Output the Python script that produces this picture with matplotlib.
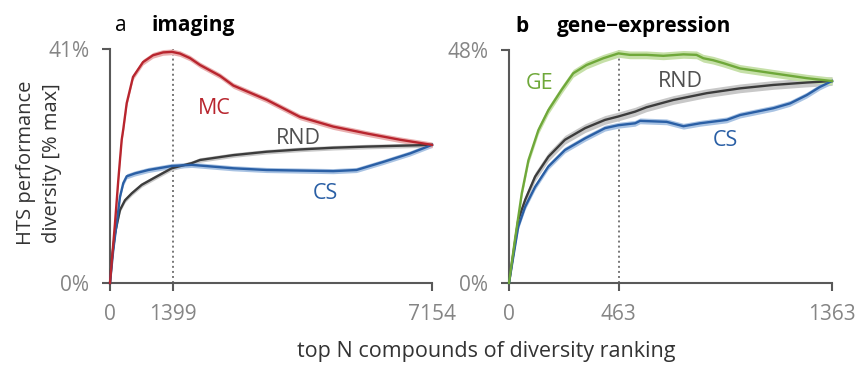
import matplotlib
matplotlib.use("Agg")
import matplotlib.pyplot as plt

plt.rcParams['font.family'] = ['Open Sans', 'DejaVu Sans']

# ---- panel a: imaging (N max 7154, y max 41%) ----
a_xmax = 7154
a_ymax = 41
a_mark = 1399

a_mc_n = [0, 111, 184, 222, 260, 296, 371, 511, 733, 955, 1178, 1377, 1555, 1777, 2000, 2444, 2740, 3481, 4221, 4961, 5703, 6443, 7154]
a_mc_v = [0, 10.5, 18.0, 21.6, 25.1, 27.0, 31.5, 36.1, 38.7, 39.9, 40.4, 40.5, 40.2, 39.4, 38.2, 36.3, 34.6, 32.1, 29.1, 27.4, 26.2, 25.1, 24.2]

a_rnd_n = [0, 38, 111, 222, 333, 482, 704, 1000, 1371, 1815, 1998, 2737, 3477, 4217, 4957, 5697, 7154]
a_rnd_v = [0, 4.0, 8.7, 12.8, 14.5, 15.7, 17.2, 18.5, 20.1, 21.0, 21.55, 22.4, 23.0, 23.4, 23.7, 23.9, 24.2]

a_cs_n = [0, 73, 149, 222, 295, 371, 553, 851, 1371, 1815, 2737, 3477, 4217, 4957, 5475, 6066, 6665, 7154]
a_cs_v = [0, 5.8, 10.5, 15.1, 17.5, 18.7, 19.2, 19.8, 20.5, 20.7, 20.1, 19.8, 19.7, 19.6, 19.8, 21.2, 22.7, 24.2]

# ---- panel b: gene-expression (N max 1363, y max 48%) ----
b_xmax = 1363
b_ymax = 48
b_mark = 463

b_ge_n = [0, 25, 54, 82, 124, 166, 222, 271, 327, 398, 462, 510, 580, 651, 736, 791, 820, 861, 904, 975, 1115, 1256, 1363]
b_ge_v = [0, 8.9, 18.5, 25.3, 31.5, 35.6, 39.8, 43.2, 44.9, 46.3, 47.3, 47.0, 47.0, 46.8, 47.1, 47.0, 46.3, 45.9, 45.3, 44.2, 43.2, 42.2, 41.6]

b_rnd_n = [0, 39, 68, 110, 166, 236, 321, 405, 461, 532, 580, 693, 834, 975, 1115, 1256, 1363]
b_rnd_v = [0, 13.0, 17.1, 21.9, 26.0, 29.5, 31.9, 33.6, 34.3, 35.3, 36.2, 37.7, 39.1, 40.1, 40.8, 41.3, 41.6]

b_cs_n = [0, 39, 68, 110, 166, 236, 321, 405, 461, 532, 553, 665, 736, 806, 919, 975, 1045, 1115, 1186, 1256, 1312, 1363]
b_cs_v = [0, 11.6, 15.7, 19.8, 24.0, 27.4, 29.8, 31.9, 32.5, 32.9, 33.4, 33.2, 32.3, 32.9, 33.6, 34.6, 35.3, 36.0, 37.0, 38.7, 40.4, 41.6]

# band half-widths (% units)
spread = {'MC': 0.5, 'RND_a': 0.4, 'CS_a': 0.45, 'GE': 0.8, 'RND_b': 0.9, 'CS_b': 0.6}

RED = '#b8252e'
BLUE = '#2a5fa5'
GREEN = '#6fa83a'
DARK = '#3c3c3c'
AXC = '#595959'
TICKC = '#858585'

fig = plt.figure(figsize=(8.62, 3.69), dpi=100)
ax_a = fig.add_axes([110/862, 1-283/369, 322/862, 234/369])
ax_b = fig.add_axes([509/862, 1-283/369, 323/862, 233/369])


def draw_curve(ax, n, v, color, band_color, s):
    lo = [max(0, y - s) for y in v]
    hi = [y + s for y in v]
    ax.fill_between(n, lo, hi, color=band_color, lw=0, zorder=2, clip_on=False)
    ax.plot(n, v, color=color, lw=1.7, zorder=3, clip_on=False)


def style_axes(ax, xmax, ymax, mark):
    ax.set_xlim(0, xmax)
    ax.set_ylim(0, ymax)
    for side in ['top', 'right']:
        ax.spines[side].set_visible(False)
    for side in ['left', 'bottom']:
        ax.spines[side].set_color(AXC)
        ax.spines[side].set_linewidth(1.5)
    ax.set_xticks([0, mark, xmax])
    ax.set_xticklabels(['0', str(mark), str(xmax)])
    ax.set_yticks([0, ymax])
    ax.set_yticklabels(['0%', '%d%%' % ymax])
    ax.tick_params(axis='both', length=6, width=1.5, color=AXC,
                   labelcolor=TICKC, labelsize=15, pad=9)
    ax.axvline(mark, ymin=0, ymax=1, color='#777777', lw=1.4,
               ls=(0, (1, 1.6)), zorder=1)


# panel a
draw_curve(ax_a, a_rnd_n, a_rnd_v, DARK, '#c8c8c8', spread['RND_a'])
draw_curve(ax_a, a_cs_n, a_cs_v, BLUE, '#a9c3e3', spread['CS_a'])
draw_curve(ax_a, a_mc_n, a_mc_v, RED, '#eab0b0', spread['MC'])
style_axes(ax_a, a_xmax, a_ymax, a_mark)
ax_a.text(2311, 30.5, 'MC', color=RED, fontsize=15.5, ha='center', va='center')
ax_a.text(4177, 25.4, 'RND', color='#505050', fontsize=15.5, ha='center', va='center')
ax_a.text(4777, 15.7, 'CS', color=BLUE, fontsize=15.5, ha='center', va='center')
ax_a.text(0.034, 1.10, 'a', transform=ax_a.transAxes, fontsize=15, ha='center', va='center')
ax_a.text(0.13, 1.10, 'imaging', transform=ax_a.transAxes, fontsize=15,
          fontweight='bold', ha='left', va='center')

# panel b
draw_curve(ax_b, b_rnd_n, b_rnd_v, DARK, '#c8c8c8', spread['RND_b'])
draw_curve(ax_b, b_cs_n, b_cs_v, BLUE, '#a9c3e3', spread['CS_b'])
draw_curve(ax_b, b_ge_n, b_ge_v, GREEN, '#c6e0a8', spread['GE'])
style_axes(ax_b, b_xmax, b_ymax, b_mark)
ax_b.text(127, 41.2, 'GE', color=GREEN, fontsize=15.5, ha='center', va='center')
ax_b.text(722, 41.6, 'RND', color='#505050', fontsize=15.5, ha='center', va='center')
ax_b.text(911, 29.3, 'CS', color=BLUE, fontsize=15.5, ha='center', va='center')
ax_b.text(0.039, 1.10, 'b', transform=ax_b.transAxes, fontsize=15,
          fontweight='bold', ha='center', va='center')
ax_b.text(0.148, 1.10, 'gene\u2212expression', transform=ax_b.transAxes, fontsize=15,
          fontweight='bold', ha='left', va='center')

fig.text(39/862, 1-163/369, 'HTS performance\ndiversity [% max]', rotation=90,
         ha='center', va='center', fontsize=14.5, color='#333333',
         multialignment='center', linespacing=1.35)
fig.text(486/862, 1-351/369, 'top N compounds of diversity ranking',
         ha='center', va='center', fontsize=15.5, color='#333333')

fig.savefig('out.png', dpi=100)
